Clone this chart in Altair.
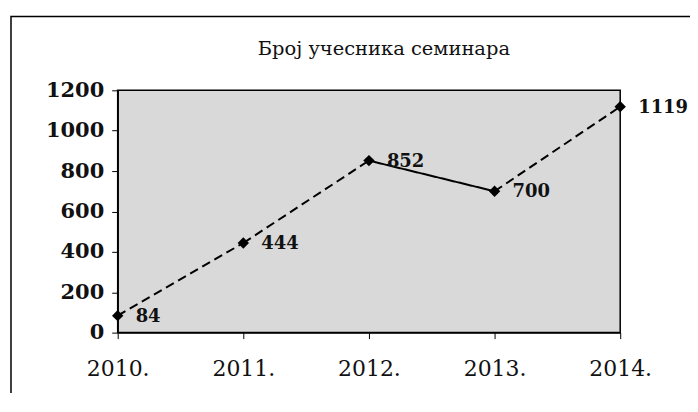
import altair as alt
import pandas as pd

years = ["2010.", "2011.", "2012.", "2013.", "2014."]
values = [84, 444, 852, 700, 1119]
seg_dashed = [True, True, False, True]
y_ticks = [0, 200, 400, 600, 800, 1000, 1200]
title_text = "Број учесника семинара"

pts = pd.DataFrame({"year": years, "value": values})
segs = pd.DataFrame({
    "year": years[:-1],
    "year2": years[1:],
    "value": values[:-1],
    "value2": values[1:],
    "style": ["dashed" if d else "solid" for d in seg_dashed],
})

xenc = alt.X("year:O", sort=years, scale=alt.Scale(type="point", padding=0),
             axis=alt.Axis(title=None, labelAngle=0, labelFont="DejaVu Serif",
                           labelFontSize=22, labelColor="#111", tickSize=6,
                           labelPadding=20, domainColor="black", tickColor="black",
                           domainWidth=1.5))
yenc = alt.Y("value:Q", scale=alt.Scale(domain=[0, 1200], nice=False),
             axis=alt.Axis(title=None, values=y_ticks, format="d",
                           labelFont="DejaVu Serif",
                           labelFontSize=21, labelFontWeight="bold", labelColor="#111",
                           tickSize=6, labelPadding=8, domainColor="black",
                           tickColor="black", domainWidth=1.5, grid=False))

one = pd.DataFrame({"t": [title_text]})

border = alt.Chart(one).mark_rect(
    fill="white", fillOpacity=0, stroke="black", strokeWidth=1.5
).encode(x=alt.value(-107), x2=alt.value(700), y=alt.value(-74), y2=alt.value(500))

title = alt.Chart(one).mark_text(
    font="DejaVu Serif", fontSize=19.5, color="#111", align="center",
    baseline="alphabetic"
).encode(x=alt.value(267), y=alt.value(-35), text="t:N")

lines = alt.Chart(segs).mark_rule(color="black", strokeWidth=2).encode(
    x=xenc, x2="year2:O", y=yenc, y2="value2:Q",
    strokeDash=alt.StrokeDash("style:N",
                              scale=alt.Scale(domain=["dashed", "solid"],
                                              range=[[9, 5], [1, 0]]),
                              legend=None),
)

points = alt.Chart(pts).mark_point(shape="diamond", filled=True, size=130,
                                   color="black", opacity=1).encode(x=xenc, y=yenc)

labels = alt.Chart(pts).mark_text(align="left", baseline="middle", dx=18, dy=1,
                                  font="DejaVu Serif", fontSize=18, fontWeight="bold",
                                  color="#111").encode(x=xenc, y=yenc, text="value:Q")

chart = alt.layer(border, title, lines, points, labels).properties(
    width=504, height=243,
    autosize=alt.AutoSizeParams(type="none"),
    padding={"left": 110, "top": 82, "right": 70, "bottom": 60},
).configure_view(fill="#d9d9d9", stroke="black", strokeWidth=1.5)

chart.save("out.html", embed_options={"renderer": "svg", "actions": False})
